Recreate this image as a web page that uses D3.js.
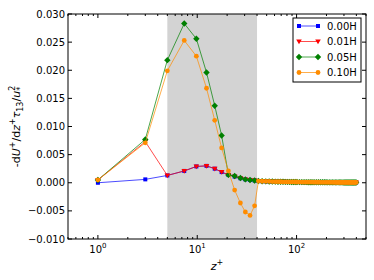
<!DOCTYPE html>
<html>
<head>
<meta charset="utf-8">
<script src="https://cdn.jsdelivr.net/npm/d3@7"></script>
<style>
  body { margin: 0; background: #fff; }
  svg text { font-family: "DejaVu Sans", sans-serif; }
</style>
</head>
<body>
<svg id="chart" width="374" height="280"></svg>
<script>
// grid points z+ (near wall part, then the dense outer part)
var zNear = [1, 3, 5, 7.4, 9.8, 12.4, 15, 17.6, 20.6, 23.8, 27.2, 30.5, 34, 37.8];
var zFar = [41.3, 45, 49, 53, 57, 61, 65, 69, 73, 77, 81, 85, 89, 93, 97, 101, 107, 113, 119, 125,
            131, 137, 143, 150, 158, 166, 174, 182, 190, 198, 206, 214, 222, 230, 238, 246, 254, 262,
            270, 278, 286, 294, 302, 310, 318, 326, 334, 342, 350, 358, 366, 374, 382, 390, 398];

var blueNear   = [0.0000, 0.0006, 0.0013, 0.0021, 0.0029, 0.0030, 0.0025, 0.0019, 0.0014, 0.0011, 0.0008, 0.0006, 0.0005, 0.0004];
var redNear    = [0.0005, 0.0073, 0.0013, 0.0021, 0.0029, 0.0030, 0.0025, 0.0019, 0.0014, 0.0011, 0.0008, 0.0006, 0.0005, 0.0004];
var greenNear  = [0.0005, 0.0077, 0.0218, 0.0283, 0.0256, 0.0196, 0.0137, 0.0084, 0.0014, 0.0012, 0.00085, 0.0006, 0.0005, 0.0004];
var orangeNear = [0.0005, 0.0071, 0.0199, 0.0253, 0.0225, 0.0168, 0.0111, 0.0062, 0.0021, -0.0013, -0.0036, -0.0052, -0.0058, -0.0041];

// outer region, all four curves sit on top of each other here
var farValues = [0.0003, 0.00027, 0.00025, 0.00023, 0.00021, 0.0002, 0.00019, 0.00018, 0.00017, 0.00016,
                 0.00015, 0.00015, 0.00014, 0.00014, 0.00013, 0.00013, 0.00012, 0.00012, 0.00011, 0.00011,
                 0.0001, 0.0001, 0.0001, 0.00009, 0.00009, 0.00009, 0.00008, 0.00008, 0.00008, 0.00008,
                 0.00007, 0.00007, 0.00007, 0.00007, 0.00007, 0.00006, 0.00006, 0.00006, 0.00006, 0.00006,
                 0.00006, 0.00005, 0.00005, 0.00005, 0.00005, 0.00005, 0.00005, 0.00005, 0.00005, 0.00005,
                 0.00005, 0.00005, 0.00005, 0.00005, 0.00005];

var seriesNames = ["0.00H", "0.01H", "0.05H", "0.10H"];
var yTicks = [-0.010, -0.005, 0.000, 0.005, 0.010, 0.015, 0.020, 0.025, 0.030];
var xMajor = [1, 10, 100];
var shadeRange = [5, 40];

var zAll = zNear.concat(zFar);
var series = [
  {name: seriesNames[0], vals: blueNear.concat(farValues),   line: "#0000ff", mark: "#0000ff", shape: "square"},
  {name: seriesNames[1], vals: redNear.concat(farValues),    line: "#ff0000", mark: "#ff0000", shape: "tri"},
  {name: seriesNames[2], vals: greenNear.concat(farValues),  line: "#008000", mark: "#008000", shape: "diamond"},
  {name: seriesNames[3], vals: orangeNear.concat(farValues), line: "#ff8c00", mark: "#ff8c00", shape: "circle"}
];

var margin = {left: 68, top: 14, right: 8, bottom: 41};
var W = 374, H = 280;
var pw = W - margin.left - margin.right, ph = H - margin.top - margin.bottom;

var svg = d3.select("#chart");
var g = svg.append("g").attr("transform", "translate(" + margin.left + "," + margin.top + ")");

var x = d3.scaleLog().domain([0.5, 500]).range([0, pw]);
var y = d3.scaleLinear().domain([-0.010, 0.030]).range([ph, 0]);

g.append("defs").append("clipPath").attr("id", "clip")
  .append("rect").attr("width", pw).attr("height", ph);

// shaded band
g.append("rect")
  .attr("x", x(shadeRange[0])).attr("y", 0)
  .attr("width", x(shadeRange[1]) - x(shadeRange[0])).attr("height", ph)
  .style("fill", "#d3d3d3");

function drawMarker(sel, shape, color, cx, cy) {
  if (shape == "square") {
    sel.append("rect").attr("x", cx - 2).attr("y", cy - 2).attr("width", 4).attr("height", 4)
      .style("fill", color);
  } else if (shape == "tri") {
    sel.append("path").attr("d", "M" + (cx - 2.8) + "," + (cy - 2) + "L" + (cx + 2.8) + "," + (cy - 2) + "L" + cx + "," + (cy + 2.8) + "Z")
      .style("fill", color);
  } else if (shape == "diamond") {
    sel.append("path").attr("d", "M" + cx + "," + (cy - 3.2) + "L" + (cx + 3.2) + "," + cy + "L" + cx + "," + (cy + 3.2) + "L" + (cx - 3.2) + "," + cy + "Z")
      .style("fill", color);
  } else {
    sel.append("circle").attr("cx", cx).attr("cy", cy).attr("r", 2.4).style("fill", color);
  }
}

var line = d3.line().x(function(d) { return x(d[0]); }).y(function(d) { return y(d[1]); });

var plot = g.append("g").attr("clip-path", "url(#clip)");
series.forEach(function(s) {
  var pts = zAll.map(function(z, i) { return [z, s.vals[i]]; });
  plot.append("path").datum(pts).attr("d", line)
    .style("fill", "none").style("stroke", s.line).style("stroke-width", 1).style("stroke-opacity", 0.7);
  var mg = plot.append("g");
  pts.forEach(function(p) { drawMarker(mg, s.shape, s.mark, x(p[0]), y(p[1])); });
});

// frame
g.append("rect").attr("width", pw).attr("height", ph)
  .style("fill", "none").style("stroke", "#000").style("stroke-width", 1);

// ticks, pointing inward on all four sides
var minor = [];
[0.1, 1, 10, 100].forEach(function(d) {
  for (var k = 2; k <= 9; k++) {
    var v = d * k;
    if (v >= 0.5 && v <= 500) minor.push(v);
  }
});

var tk = g.append("g").style("stroke", "#000").style("stroke-width", 1);
xMajor.forEach(function(v) {
  tk.append("line").attr("x1", x(v)).attr("x2", x(v)).attr("y1", ph).attr("y2", ph - 4);
  tk.append("line").attr("x1", x(v)).attr("x2", x(v)).attr("y1", 0).attr("y2", 4);
});
minor.forEach(function(v) {
  tk.append("line").attr("x1", x(v)).attr("x2", x(v)).attr("y1", ph).attr("y2", ph - 2);
  tk.append("line").attr("x1", x(v)).attr("x2", x(v)).attr("y1", 0).attr("y2", 2);
});
yTicks.forEach(function(v) {
  tk.append("line").attr("x1", 0).attr("x2", 4).attr("y1", y(v)).attr("y2", y(v));
  tk.append("line").attr("x1", pw).attr("x2", pw - 4).attr("y1", y(v)).attr("y2", y(v));
});

// y tick labels
var fmt = d3.format(".3f");
yTicks.forEach(function(v) {
  g.append("text").attr("x", -3).attr("y", y(v)).attr("dy", "0.35em")
    .attr("text-anchor", "end").style("font-size", "10px")
    .text(fmt(v).replace("-", "\u2212"));
});

// x tick labels 10^n
xMajor.forEach(function(v, i) {
  var t = g.append("text").attr("x", x(v)).attr("y", ph + 14)
    .attr("text-anchor", "middle").style("font-size", "10px");
  t.append("tspan").text("10");
  t.append("tspan").attr("dy", -5).style("font-size", "7px").text(String(i));
});

// axis labels
var xl = g.append("text").attr("x", pw / 2).attr("y", ph + 31).attr("text-anchor", "middle")
  .style("font-size", "11px");
xl.append("tspan").style("font-style", "italic").text("z");
xl.append("tspan").attr("dy", -5).style("font-size", "8px").text("+");

var yl = svg.append("text").attr("transform", "translate(20," + (margin.top + ph / 2) + ") rotate(-90)")
  .attr("text-anchor", "middle").style("font-size", "11px");
yl.append("tspan").text("-d");
yl.append("tspan").style("font-style", "italic").text("U");
yl.append("tspan").attr("dy", -5).style("font-size", "8px").text("+");
yl.append("tspan").attr("dy", 5).text("/d");
yl.append("tspan").style("font-style", "italic").text("z");
yl.append("tspan").attr("dy", -5).style("font-size", "8px").text("+");
yl.append("tspan").attr("dy", 5).style("font-style", "italic").text("\u03c4");
yl.append("tspan").attr("dy", 3).style("font-size", "8px").text("13");
yl.append("tspan").attr("dy", -3).text("/");
yl.append("tspan").style("font-style", "italic").text("u");
yl.append("tspan").attr("dy", 3).style("font-size", "8px").text("*");
yl.append("tspan").attr("dx", -4).attr("dy", -8).style("font-size", "8px").text("2");

// legend
var lg = g.append("g").attr("transform", "translate(" + (293 - margin.left) + "," + (18 - margin.top) + ")");
lg.append("rect").attr("width", 68).attr("height", 64)
  .style("fill", "#fff").style("stroke", "#000").style("stroke-width", 1);
series.forEach(function(s, i) {
  var ly = 8 + i * 15.5;
  lg.append("line").attr("x1", 6).attr("x2", 25).attr("y1", ly).attr("y2", ly)
    .style("stroke", s.line).style("stroke-opacity", 0.7).style("stroke-width", 1);
  drawMarker(lg, s.shape, s.mark, 6, ly);
  drawMarker(lg, s.shape, s.mark, 25, ly);
  lg.append("text").attr("x", 34).attr("y", ly).attr("dy", "0.35em")
    .style("font-size", "10px").text(s.name);
});
</script>
</body>
</html>
